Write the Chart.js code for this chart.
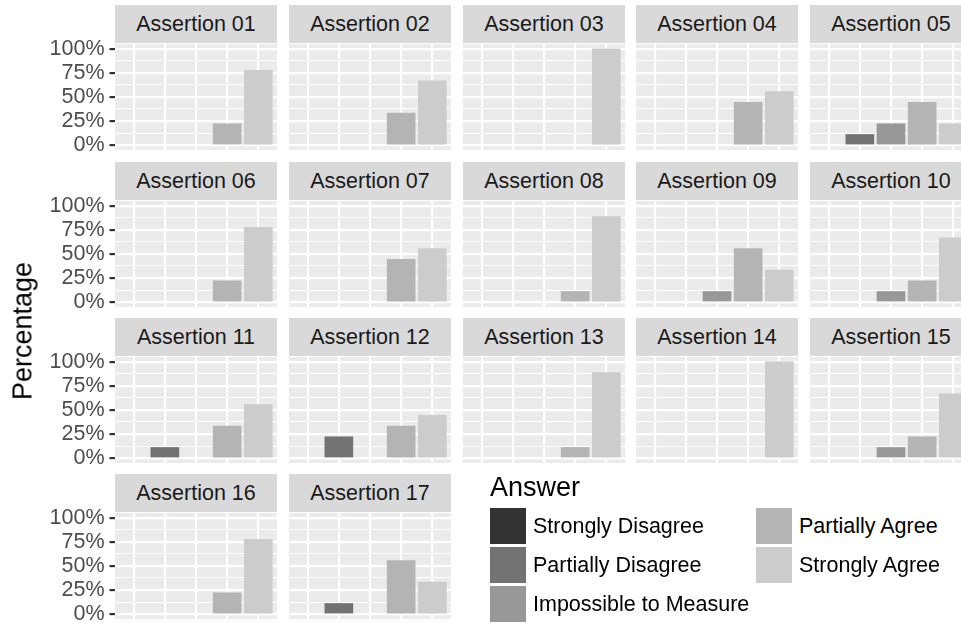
<!DOCTYPE html>
<html>
<head>
<meta charset="utf-8">
<title>Assertions</title>
<script src="https://cdn.jsdelivr.net/npm/chart.js"></script>
<style>
  html, body { margin: 0; padding: 0; background: #fff; overflow: hidden; }
  #fig { position: relative; width: 961px; height: 623px; overflow: hidden;
         font-family: "Liberation Sans", Arial, Helvetica, sans-serif; }
  #fig canvas { position: absolute; }
  .strip { position: absolute; height: 38px; line-height: 38px; background: #d9d9d9;
           color: #1a1a1a; font-size: 21.5px; text-align: center; white-space: nowrap; overflow: hidden; }
  .ytitle { position: absolute; left: 23px; top: 331px; font-size: 27px; line-height: 27px; color: #000;
            transform: translate(-50%, -50%) rotate(-90deg); white-space: nowrap; }
  .ltitle { position: absolute; left: 490px; top: 474px; font-size: 27px; line-height: 27px; color: #000; }
  .key { position: absolute; width: 36px; height: 36px; }
  .klabel { position: absolute; font-size: 21.5px; line-height: 36px; color: #000; white-space: nowrap; }
</style>
</head>
<body>
<div id="fig"></div>
<script>
"use strict";

// data, one entry per assertion (percent of respondents)
const assertions = ["Assertion 01", "Assertion 02", "Assertion 03", "Assertion 04", "Assertion 05",
  "Assertion 06", "Assertion 07", "Assertion 08", "Assertion 09", "Assertion 10",
  "Assertion 11", "Assertion 12", "Assertion 13", "Assertion 14", "Assertion 15",
  "Assertion 16", "Assertion 17"];
const answers = ["Strongly Disagree", "Partially Disagree", "Impossible to Measure", "Partially Agree", "Strongly Agree"];
const stronglyDisagree  = [0, 0, 0, 0, 0, 0, 0, 0, 0, 0, 0, 0, 0, 0, 0, 0, 0];
const partiallyDisagree = [0, 0, 0, 0, 11.1, 0, 0, 0, 0, 0, 11.1, 22.2, 0, 0, 0, 0, 11.1];
const impossible        = [0, 0, 0, 0, 22.2, 0, 0, 0, 11.1, 11.1, 0, 0, 0, 0, 11.1, 0, 0];
const partiallyAgree    = [22.2, 33.3, 0, 44.4, 44.4, 22.2, 44.4, 11.1, 55.6, 22.2, 33.3, 33.3, 11.1, 0, 22.2, 22.2, 55.6];
const stronglyAgree     = [77.8, 66.7, 100, 55.6, 22.2, 77.8, 55.6, 88.9, 33.3, 66.7, 55.6, 44.4, 88.9, 100, 66.7, 77.8, 33.3];
const yTicks = [0, 25, 50, 75, 100];

const series = [stronglyDisagree, partiallyDisagree, impossible, partiallyAgree, stronglyAgree];
const greys = ["#333333", "#737373", "#989898", "#b4b4b4", "#cccccc"];

// layout of the facet grid
const PANEL_W = 162, PANEL_H = 106, STRIP_H = 38, PAD = 22;
const X0 = 115, XSTEP = 173.75, Y0 = 44.2, YSTEP = 156.3;

const fig = document.getElementById("fig");
Chart.defaults.font.family = '"Liberation Sans", Arial, Helvetica, sans-serif';

function isMajor(v) {
    return yTicks.indexOf(v) >= 0;
}

// minor gridlines halfway between the labelled ticks
const yAll = [];
yTicks.forEach(function (v, k) {
    yAll.push(v);
    if (k < yTicks.length - 1) yAll.push((v + yTicks[k + 1]) / 2);
});

const panelBg = {
    id: "panelBg",
    beforeDraw(chart) {
        const a = chart.chartArea, c = chart.ctx;
        c.save();
        c.fillStyle = "#ebebeb";
        c.fillRect(a.left, a.top, a.right - a.left, a.bottom - a.top);
        c.restore();
    }
};

assertions.forEach(function (name, i) {
    const col = i % 5, row = Math.floor(i / 5);
    const px = Math.round(X0 + col * XSTEP);
    const py = Math.round(Y0 + row * YSTEP);
    const axisW = col === 0 ? px : 0;

    const strip = document.createElement("div");
    strip.className = "strip";
    strip.textContent = name;
    strip.style.left = px + "px";
    strip.style.top = (py - STRIP_H - 1) + "px";
    strip.style.width = PANEL_W + "px";
    fig.appendChild(strip);

    const cv = document.createElement("canvas");
    cv.width = axisW + PANEL_W;
    cv.height = PANEL_H + 2 * PAD;
    cv.style.left = (px - axisW) + "px";
    cv.style.top = (py - PAD) + "px";
    fig.appendChild(cv);

    const points = [], colors = [];
    series.forEach(function (s, k) {
        if (s[i] > 0) {
            points.push({ x: k + 1, y: s[i] });
            colors.push(greys[k]);
        }
    });

    new Chart(cv.getContext("2d"), {
        type: "bar",
        data: {
            datasets: [{
                data: points,
                backgroundColor: colors,
                barThickness: 28,
                borderWidth: 0
            }]
        },
        options: {
            responsive: false,
            animation: false,
            events: [],
            layout: { padding: { top: PAD, bottom: PAD, left: 0, right: 0 } },
            plugins: {
                legend: { display: false },
                tooltip: { enabled: false }
            },
            scales: {
                x: {
                    type: "linear",
                    min: 0.4,
                    max: 5.6,
                    offset: false,
                    afterBuildTicks: function (s) {
                        s.ticks = answers.map(function (a, k) { return { value: k + 1 }; });
                    },
                    ticks: { display: false },
                    grid: { color: "#ffffff", lineWidth: 2.2, drawTicks: false, offset: false },
                    border: { display: false },
                    afterFit: function (s) { s.height = 0; }
                },
                y: {
                    min: -5,
                    max: 105,
                    afterBuildTicks: function (s) {
                        s.ticks = yAll.map(function (v) { return { value: v }; });
                    },
                    ticks: {
                        display: col === 0,
                        autoSkip: false,
                        padding: 5,
                        color: "#4d4d4d",
                        font: { size: 21.5 },
                        callback: function (v) { return isMajor(v) ? v + "%" : ""; }
                    },
                    grid: {
                        color: "#ffffff",
                        lineWidth: function (ctx) { return ctx.tick && isMajor(ctx.tick.value) ? 2.2 : 1.1; },
                        drawTicks: col === 0,
                        tickLength: 5.5,
                        tickWidth: 2.2,
                        tickColor: function (ctx) { return ctx.tick && isMajor(ctx.tick.value) ? "#333333" : "rgba(0,0,0,0)"; }
                    },
                    border: { display: false },
                    afterFit: function (s) { s.width = axisW; }
                }
            }
        },
        plugins: [panelBg]
    });
});

// axis title
const yt = document.createElement("div");
yt.className = "ytitle";
yt.textContent = "Percentage";
fig.appendChild(yt);

// legend, filled column by column, three rows
const lt = document.createElement("div");
lt.className = "ltitle";
lt.textContent = "Answer";
fig.appendChild(lt);
answers.forEach(function (a, k) {
    const lc = Math.floor(k / 3), lr = k % 3;
    const kx = 490 + lc * 266, ky = 508 + lr * 39;
    const key = document.createElement("div");
    key.className = "key";
    key.style.left = kx + "px";
    key.style.top = ky + "px";
    key.style.background = greys[k];
    fig.appendChild(key);
    const lab = document.createElement("div");
    lab.className = "klabel";
    lab.textContent = a;
    lab.style.left = (kx + 43) + "px";
    lab.style.top = ky + "px";
    fig.appendChild(lab);
});
</script>
</body>
</html>
